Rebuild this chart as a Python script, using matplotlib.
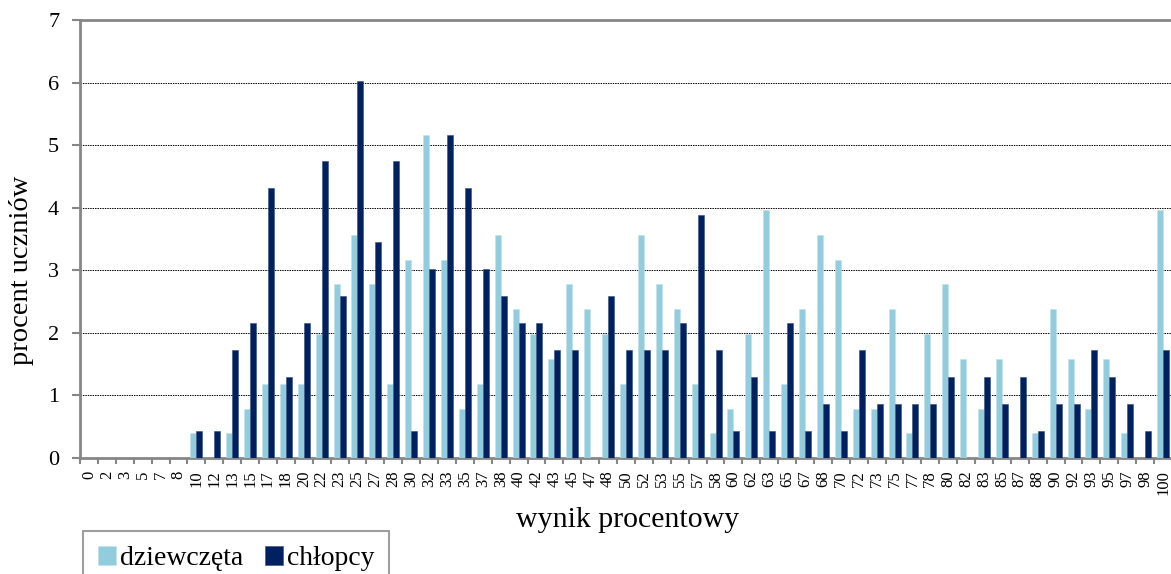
import matplotlib
matplotlib.use("Agg")
import matplotlib.pyplot as plt
import numpy as np

categories = ["0", "2", "3", "5", "7", "8", "10", "12", "13", "15", "17", "18", "20", "22", "23",
              "25", "27", "28", "30", "32", "33", "35", "37", "38", "40", "42", "43", "45", "47", "48",
              "50", "52", "53", "55", "57", "58", "60", "62", "63", "65", "67", "68", "70", "72", "73",
              "75", "77", "78", "80", "82", "83", "85", "87", "88", "90", "92", "93", "95", "97", "98", "100"]

dziewczeta = [0, 0, 0, 0, 0, 0, 0.40, 0, 0.40, 0.79, 1.19, 1.19, 1.19, 1.98, 2.78,
              3.57, 2.78, 1.19, 3.17, 5.16, 3.17, 0.79, 1.19, 3.57, 2.38, 1.98, 1.59, 2.78, 2.38, 1.98,
              1.19, 3.57, 2.78, 2.38, 1.19, 0.40, 0.79, 1.98, 3.97, 1.19, 2.38, 3.57, 3.17, 0.79, 0.79,
              2.38, 0.40, 1.98, 2.78, 1.59, 0.79, 1.59, 0, 0.40, 2.38, 1.59, 0.79, 1.59, 0.40, 0, 3.97]

chlopcy = [0, 0, 0, 0, 0, 0, 0.43, 0.43, 1.72, 2.16, 4.31, 1.29, 2.16, 4.74, 2.59,
           6.03, 3.45, 4.74, 0.43, 3.02, 5.17, 4.31, 3.02, 2.59, 2.16, 2.16, 1.72, 1.72, 0, 2.59,
           1.72, 1.72, 1.72, 2.16, 3.88, 1.72, 0.43, 1.29, 0.43, 2.16, 0.43, 0.86, 0.43, 1.72, 0.86,
           0.86, 0.86, 0.86, 1.29, 0, 1.29, 0.86, 1.29, 0.43, 0.86, 0.86, 1.72, 1.29, 0.86, 0.43, 1.72]

c_girls = "#93CDDD"
c_boys = "#002060"
grey = "#868686"

fig = plt.figure(figsize=(11.71, 5.74), dpi=100)
W, H = 1171, 574
left, right, top, bottom = 80, 1172, 20, 458
ax = fig.add_axes([left / W, 1 - bottom / H, (right - left) / W, (bottom - top) / H])

x = np.arange(len(categories))
bw = 0.335
ax.bar(x - bw / 2, dziewczeta, width=bw, color=c_girls, edgecolor="#BFE3EC", linewidth=0.4,
       label="dziewczęta", zorder=3)
ax.bar(x + bw / 2, chlopcy, width=bw, color=c_boys, edgecolor="#33507F", linewidth=0.4,
       label="chłopcy", zorder=3)

ax.set_xlim(-0.5, len(categories) - 0.5)
ax.set_ylim(0, 7)
ax.set_yticks(range(0, 8))
ax.yaxis.grid(True, color="black", linestyle=(0, (1.5, 1)), linewidth=0.7, zorder=1)
ax.set_axisbelow(True)

for s in ["left", "bottom", "top", "right"]:
    ax.spines[s].set_color(grey)
    ax.spines[s].set_linewidth(2)

ax.set_xticks(x)
ax.set_xticklabels(categories, rotation=90, fontsize=12, family="Liberation Serif")
ax.tick_params(axis="x", length=0, pad=9)
ax.set_xticks(np.arange(-0.5, len(categories), 1), minor=True)
ax.tick_params(axis="x", which="minor", length=4.5, width=1.5, color=grey, direction="out")
ax.tick_params(axis="y", length=6, width=1.5, color=grey, direction="out", pad=9)
for lab in ax.get_yticklabels():
    lab.set_family("Liberation Serif")
    lab.set_fontsize(16)

fig.text(628 / W, 1 - 520 / H, "wynik procentowy", ha="center", va="center",
         family="Liberation Serif", fontsize=21.5)
fig.text(22 / W, 1 - 270 / H, "procent uczniów", ha="center", va="center", rotation=90,
         family="Liberation Serif", fontsize=20.5)

leg = fig.legend(loc="upper left", bbox_to_anchor=(83 / W, 1 - 531 / H),
                 ncol=2, frameon=True, fancybox=False, edgecolor=grey,
                 prop={"family": "Liberation Serif", "size": 20},
                 handlelength=0.65, handleheight=0.65, handletextpad=0.12,
                 columnspacing=0.8, borderpad=0.55, borderaxespad=0)
leg.get_frame().set_linewidth(1.5)

fig.savefig("out.png", dpi=100)
